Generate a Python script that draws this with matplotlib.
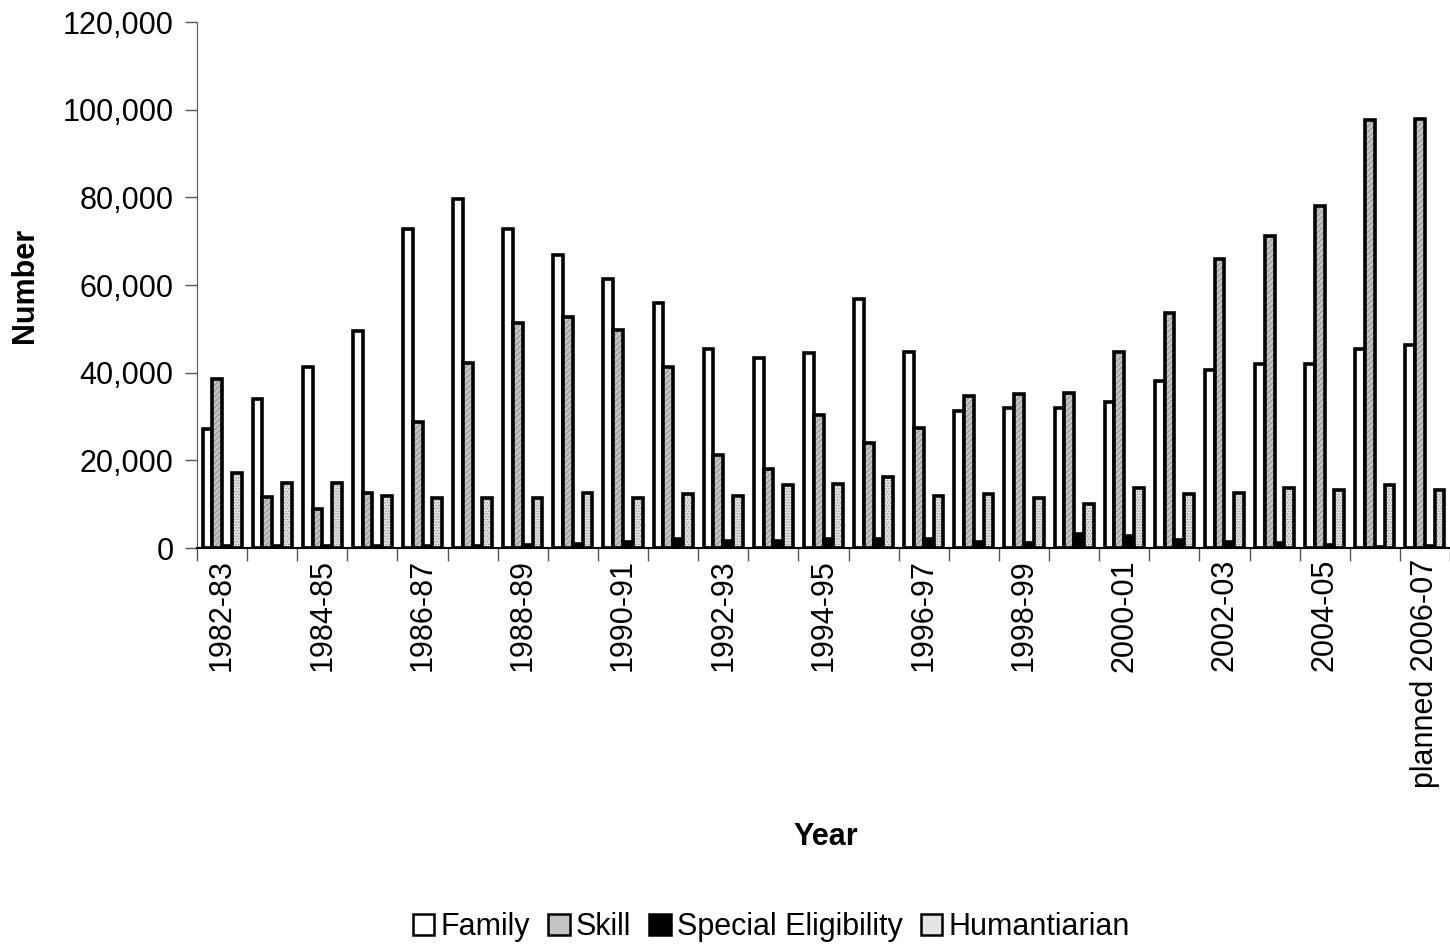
import numpy as np
import matplotlib
matplotlib.use('Agg')
import matplotlib.pyplot as plt
from matplotlib.patches import Patch

plt.rcParams['font.family'] = ['Liberation Sans', 'DejaVu Sans']

years = ['1982-83', '1983-84', '1984-85', '1985-86', '1986-87', '1987-88', '1988-89',
         '1989-90', '1990-91', '1991-92', '1992-93', '1993-94', '1994-95', '1995-96',
         '1996-97', '1997-98', '1998-99', '1999-00', '2000-01', '2001-02', '2002-03',
         '2003-04', '2004-05', '2005-06', 'planned 2006-07']

family = [27100, 34000, 41200, 49500, 72800, 79600, 72800, 66800, 61400, 55900, 45400,
          43300, 44500, 56800, 44700, 31300, 31900, 31900, 33300, 38100, 40600, 42000,
          41900, 45400, 46200]
skill = [38500, 11700, 8900, 12600, 28700, 42200, 51300, 52700, 49700, 41300, 21200,
         18000, 30300, 24000, 27400, 34700, 35100, 35300, 44700, 53600, 65900, 71200,
         78100, 97600, 97800]
special = [400, 500, 500, 500, 500, 500, 700, 1000, 1400, 2000, 1700, 1500, 2000, 2000,
           2000, 1400, 1100, 3100, 2800, 1750, 1400, 1100, 600, 300, 400]
humanitarian = [17100, 14800, 14900, 11900, 11500, 11400, 11400, 12500, 11400, 12300,
                11900, 14400, 14600, 16200, 11900, 12300, 11400, 10000, 13700, 12300,
                12500, 13700, 13300, 14400, 13200]

series = [
    ('Family', family, 'white', None),
    ('Skill', skill, '#c4c4c4', '//////'),
    ('Special Eligibility', special, 'black', None),
    ('Humantiarian', humanitarian, '#e4e4e4', '......'),
]

fig = plt.figure(figsize=(14.5, 9.46), dpi=100)
ax = fig.add_axes([197 / 1450, 1 - 548 / 946, 1 - 197 / 1450, (548 - 22) / 946])

x = np.arange(len(years))
w = 0.195
handles = []
for k, (name, vals, fc, hatch) in enumerate(series):
    pos = x + (k - 1.5) * w
    if hatch:
        plt.rcParams['hatch.color'] = '#8a8a8a'
        plt.rcParams['hatch.linewidth'] = 0.6
        ax.bar(pos, vals, w, color=fc, hatch=hatch, edgecolor='#8a8a8a', linewidth=0)
        ax.bar(pos, vals, w, fill=False, edgecolor='black', linewidth=2.6)
    else:
        ax.bar(pos, vals, w, color=fc, edgecolor='black', linewidth=2.6)
    handles.append(Patch(facecolor=fc, edgecolor='black', linewidth=1.8, label=name))

ax.set_xlim(-0.5, len(years) - 0.5)
ax.set_ylim(0, 120000)
ax.set_yticks(np.arange(0, 120001, 20000))
ax.set_yticklabels(['{:,}'.format(v) for v in range(0, 120001, 20000)], fontsize=22)
ax.set_xticks(np.arange(len(years) + 1) - 0.5)
ax.set_xticklabels([])
ax.set_xticks(x[::2], minor=True)
ax.set_xticklabels(years[::2], minor=True, rotation=90, fontsize=22)
ax.tick_params(axis='x', which='minor', length=0, pad=8)
ax.tick_params(axis='x', which='major', length=9, width=1, color='#555555')
ax.tick_params(axis='y', length=9, width=1, color='#555555', pad=8)
for s in ['top', 'right']:
    ax.spines[s].set_visible(False)
ax.spines['left'].set_color('#555555')
ax.spines['bottom'].set_color('black')
ax.spines['bottom'].set_linewidth(1.5)

fig.text(826 / 1450, 1 - 837 / 946, 'Year', fontsize=22, fontweight='bold', ha='center', va='center')
fig.text(25 / 1450, 1 - 285 / 946, 'Number', fontsize=22, fontweight='bold', rotation=90,
         ha='center', va='center')

fig.legend(handles=handles, loc='center', bbox_to_anchor=(0.532, 1 - 927 / 946), ncol=4,
           frameon=False, fontsize=22, handlelength=0.7, handleheight=0.7,
           handletextpad=0.2, columnspacing=0.6)

fig.savefig('out.png', dpi=100)
